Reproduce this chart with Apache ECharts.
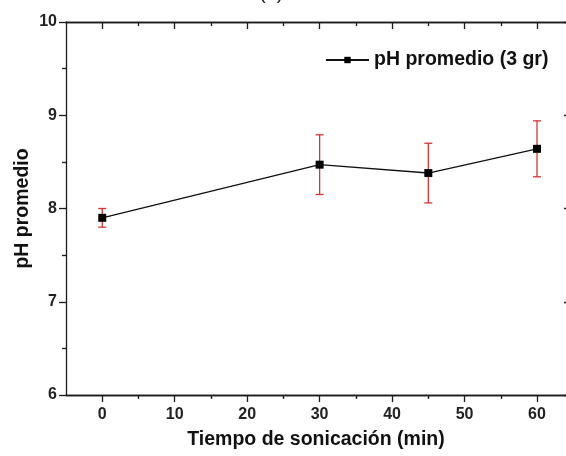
<!DOCTYPE html>
<html>
<head>
<meta charset="utf-8">
<style>
  html, body { margin: 0; padding: 0; background: #fff; }
  #chart { width: 566px; height: 456px; }
</style>
<script src="https://cdn.jsdelivr.net/npm/echarts@6/dist/echarts.min.js"></script>
</head>
<body>
<div id="chart"></div>
<script>
// Sonication time (min) and mean pH with standard deviation
const sonicationTime = [0, 30, 45, 60];
const phMean = [7.90, 8.47, 8.38, 8.64];
const phError = [0.10, 0.32, 0.32, 0.30];

const xMajorTicks = [0, 10, 20, 30, 40, 50, 60];
const xMinorTicks = [5, 15, 25, 35, 45, 55];

const FONT = '"Liberation Sans", Arial, Helvetica, sans-serif';
const AXIS_COLOR = '#1a1a1a';
const ERR_COLOR = '#d33434';

const chart = echarts.init(document.getElementById('chart'), null, { renderer: 'canvas' });

const axisLineStyle = { color: AXIS_COLOR, width: 1.3 };

// The frame runs from -5 min and is cut by the right edge of the page.
const X_MIN = -5;
const X_MAX = 64;

function xAxisDef(position, ticks, len, inside, withLabels) {
  const ax = {
    type: 'value',
    position: position,
    min: X_MIN,
    max: X_MAX,
    splitLine: { show: false },
    axisLine: { show: true, lineStyle: axisLineStyle, onZero: false },
    axisTick: { show: true, inside: inside, length: len, lineStyle: axisLineStyle, customValues: ticks },
    axisLabel: { show: false }
  };
  if (withLabels) {
    ax.axisLabel = {
      show: true,
      customValues: xMajorTicks,
      margin: 12,
      color: '#222',
      fontFamily: FONT,
      fontWeight: 'bold',
      fontSize: 16
    };
    ax.name = 'Tiempo de sonicación (min)';
    ax.nameLocation = 'middle';
    ax.nameGap = 35;
    ax.nameMoveOverlap = false;
    ax.nameTextStyle = { color: '#111', fontFamily: FONT, fontWeight: 'bold', fontSize: 19.5 };
  }
  return ax;
}

function yAxisDef(position, inside, withLabels) {
  const ax = {
    type: 'value',
    position: position,
    min: 6,
    max: 10,
    interval: 1,
    splitLine: { show: false },
    axisLine: { show: withLabels, lineStyle: axisLineStyle, onZero: false },
    axisTick: { show: true, inside: inside, length: withLabels ? 7 : 2, lineStyle: axisLineStyle },
    minorTick: { show: withLabels, splitNumber: 2, length: 4, lineStyle: axisLineStyle },
    minorSplitLine: { show: false },
    axisLabel: { show: false }
  };
  if (withLabels) {
    ax.axisLabel = {
      show: true,
      margin: 9,
      color: '#222',
      fontFamily: FONT,
      fontWeight: 'bold',
      fontSize: 16
    };
    ax.name = 'pH promedio';
    ax.nameLocation = 'middle';
    ax.nameRotate = 90;
    ax.nameGap = 33;
    ax.nameMoveOverlap = false;
    ax.nameTextStyle = { color: '#111', fontFamily: FONT, fontWeight: 'bold', fontSize: 19.5 };
  }
  return ax;
}

const meanPoints = sonicationTime.map((t, i) => [t, phMean[i]]);
const errorRanges = sonicationTime.map((t, i) => [t, phMean[i] - phError[i], phMean[i] + phError[i]]);

const option = {
  backgroundColor: '#ffffff',
  animation: false,
  grid: { left: 66, top: 22, right: 0, bottom: 61, containLabel: false },
  graphic: [{
    type: 'text',
    left: 259,
    top: -17,
    style: { text: '(a)', fill: '#222', font: '20px ' + FONT }
  }],
  legend: {
    show: true,
    left: 325,
    top: 50,
    padding: 0,
    itemWidth: 43,
    itemHeight: 8,
    itemGap: 6,
    textStyle: { color: '#111', fontFamily: FONT, fontWeight: 'bold', fontSize: 19.5 },
    data: ['pH promedio (3 gr)']
  },
  xAxis: [
    xAxisDef('bottom', xMajorTicks, 7, false, true),
    xAxisDef('bottom', xMinorTicks, 4, false, false),
    xAxisDef('top', xMajorTicks, 7, true, false),
    xAxisDef('top', xMinorTicks, 4, true, false)
  ],
  yAxis: [
    yAxisDef('left', false, true),
    yAxisDef('right', true, false)
  ],
  series: [
    {
      name: 'error',
      type: 'custom',
      xAxisIndex: 0,
      yAxisIndex: 0,
      z: 2,
      silent: true,
      data: errorRanges,
      renderItem: function (params, api) {
        const x = api.value(0);
        const lo = api.coord([x, api.value(1)]);
        const hi = api.coord([x, api.value(2)]);
        const cap = 4;
        const style = { stroke: ERR_COLOR, lineWidth: 1.3, fill: null };
        return {
          type: 'group',
          children: [
            { type: 'line', shape: { x1: lo[0], y1: lo[1], x2: hi[0], y2: hi[1] }, style: style },
            { type: 'line', shape: { x1: lo[0] - cap, y1: lo[1], x2: lo[0] + cap, y2: lo[1] }, style: style },
            { type: 'line', shape: { x1: hi[0] - cap, y1: hi[1], x2: hi[0] + cap, y2: hi[1] }, style: style }
          ]
        };
      }
    },
    {
      name: 'pH promedio (3 gr)',
      type: 'line',
      xAxisIndex: 0,
      yAxisIndex: 0,
      z: 5,
      data: meanPoints,
      symbol: 'rect',
      symbolSize: 8,
      showAllSymbol: true,
      itemStyle: { color: '#000' },
      lineStyle: { color: '#111', width: 1.4 }
    }
  ]
};

chart.setOption(option);
</script>
</body>
</html>
